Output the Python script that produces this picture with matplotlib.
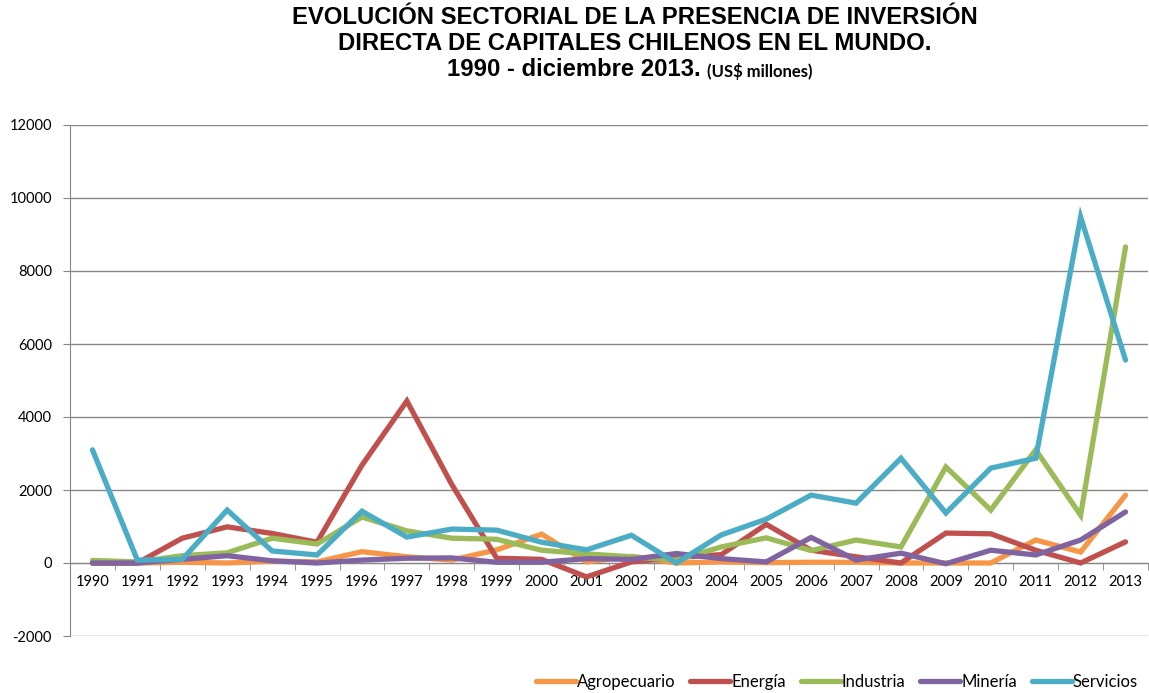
import matplotlib
matplotlib.use("Agg")
import matplotlib.pyplot as plt
from matplotlib.lines import Line2D

years = [str(y) for y in range(1990, 2014)]
agropecuario = [0, 0, 20, 0, 50, 30, 310, 170, 80, 360, 790, 30, 180, 0, 30, 10, 20, 20, 0, 0, 0, 630, 300, 1860]
energia = [0, 0, 680, 990, 810, 570, 2680, 4440, 2150, 130, 100, -380, 30, 150, 230, 1060, 350, 170, 0, 820, 800, 350, 0, 580]
industria = [70, 30, 200, 280, 680, 520, 1260, 880, 680, 650, 350, 250, 170, 80, 440, 690, 340, 630, 440, 2630, 1450, 3100, 1310, 8660]
mineria = [0, 0, 100, 200, 60, 0, 80, 130, 140, 20, 20, 120, 100, 260, 120, 30, 700, 80, 270, -20, 350, 220, 630, 1400]
servicios = [3100, 80, 100, 1450, 330, 220, 1420, 710, 930, 900, 570, 360, 760, 0, 770, 1200, 1860, 1640, 2870, 1370, 2600, 2870, 9480, 5560]

series_names = ["Agropecuario", "Energía", "Industria", "Minería", "Servicios"]
series_vals = [agropecuario, energia, industria, mineria, servicios]
colors = ["#F79646", "#C0504D", "#9BBB59", "#8064A2", "#4BACC6"]
yticks = list(range(-2000, 12001, 2000))

plt.rcParams['font.family'] = ['Lato', 'DejaVu Sans']

fig = plt.figure(figsize=(11.49, 6.93), dpi=100)
ax = fig.add_axes([70/1149, 1-636/693, 1078/1149, 511/693])

x = list(range(len(years)))
for name, vals, c in zip(series_names, series_vals, colors):
    ax.plot(x, vals, color=c, lw=3.8, solid_joinstyle='miter', solid_capstyle='round', label=name)

ax.set_xlim(-0.5, len(years) - 0.5)
ax.set_ylim(-2000, 12000)
ax.set_yticks(yticks)
ax.set_yticklabels([str(v) for v in yticks], fontsize=10.5)
ax.yaxis.grid(True, color="#868686", lw=1)
ax.set_axisbelow(True)

ax.spines['top'].set_visible(False)
ax.spines['right'].set_visible(False)
ax.spines['left'].set_color("#868686")
ax.spines['bottom'].set_position(('data', 0))
ax.spines['bottom'].set_color("#868686")
ax.spines['bottom'].set_zorder(1)

ax.set_xticks(x)
ax.set_xticklabels(years, fontsize=10.5)
ax.set_xticks([i - 0.5 for i in range(len(years) + 1)], minor=True)
ax.tick_params(axis='x', which='major', length=0, pad=9)
ax.tick_params(axis='x', which='minor', length=5, color="#868686", direction='out')
ax.tick_params(axis='y', length=5, color="#868686", pad=8)

tx = 635/1149
tfont = 'Liberation Sans'
fig.text(tx, 1-18/693, "EVOLUCIÓN SECTORIAL DE LA PRESENCIA DE INVERSIÓN",
         ha='center', va='center', fontsize=17.2, fontweight='bold', family=tfont)
fig.text(tx, 1-44/693, "DIRECTA DE CAPITALES CHILENOS EN EL MUNDO.",
         ha='center', va='center', fontsize=17.2, fontweight='bold', family=tfont)
fig.text(701/1149, 1-70/693, "1990 - diciembre 2013.",
         ha='right', va='center', fontsize=17.2, fontweight='bold', family=tfont)
fig.text(707/1149, 1-71/693, "(US$ millones)",
         ha='left', va='center', fontsize=12, fontweight='bold')

handles = [Line2D([0], [0], color=c, lw=3.8, solid_capstyle='round') for c in colors]
fig.legend(handles, series_names, loc='center right', bbox_to_anchor=(1138/1149, 1-682/693),
           ncol=5, frameon=False, fontsize=12, handlelength=2.4, handletextpad=0.05,
           columnspacing=0.9, borderaxespad=0, borderpad=0)

fig.savefig("out.png", dpi=100)
